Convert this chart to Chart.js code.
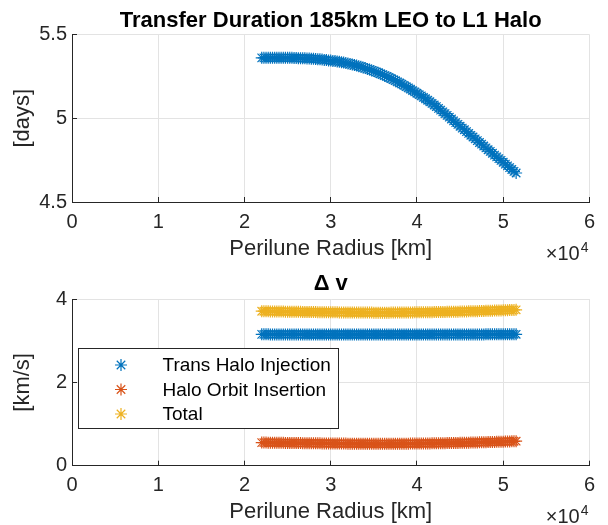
<!DOCTYPE html>
<html>
<head>
<meta charset="utf-8">
<script src="https://cdn.jsdelivr.net/npm/chart.js@4.4.1/dist/chart.umd.min.js"></script>
<style>
  html, body { margin: 0; padding: 0; background: #fff; }
  #wrap { position: relative; width: 608px; height: 525px; }
  canvas { position: absolute; left: 0; }
  #durationChart { top: 0; }
  #dvChart { top: 262px; }
</style>
</head>
<body>
<div id="wrap">
  <canvas id="durationChart" width="608" height="262"></canvas>
  <canvas id="dvChart" width="608" height="263"></canvas>
</div>
<script>
// perilune radius sweep [km]
const radiusKm = [
  22000, 22250, 22500, 22750, 23000, 23250, 23500, 23750, 24000, 24250,
  24500, 24750, 25000, 25250, 25500, 25750, 26000, 26250, 26500, 26750,
  27000, 27250, 27500, 27750, 28000, 28250, 28500, 28750, 29000, 29250,
  29500, 29750, 30000, 30250, 30500, 30750, 31000, 31250, 31500, 31750,
  32000, 32250, 32500, 32750, 33000, 33250, 33500, 33750, 34000, 34250,
  34500, 34750, 35000, 35250, 35500, 35750, 36000, 36250, 36500, 36750,
  37000, 37250, 37500, 37750, 38000, 38250, 38500, 38750, 39000, 39250,
  39500, 39750, 40000, 40250, 40500, 40750, 41000, 41250, 41500, 41750,
  42000, 42250, 42500, 42750, 43000, 43250, 43500, 43750, 44000, 44250,
  44500, 44750, 45000, 45250, 45500, 45750, 46000, 46250, 46500, 46750,
  47000, 47250, 47500, 47750, 48000, 48250, 48500, 48750, 49000, 49250,
  49500, 49750, 50000, 50250, 50500, 50750, 51000, 51250, 51500
];

// transfer duration [days]
const transferDays = [
  5.360, 5.360, 5.360, 5.360, 5.360, 5.360, 5.360, 5.360, 5.360, 5.360,
  5.360, 5.360, 5.360, 5.360, 5.360, 5.359, 5.359, 5.358, 5.358, 5.357,
  5.357, 5.356, 5.356, 5.355, 5.354, 5.353, 5.352, 5.351, 5.350, 5.348,
  5.347, 5.345, 5.344, 5.342, 5.341, 5.339, 5.337, 5.334, 5.332, 5.329,
  5.327, 5.324, 5.321, 5.317, 5.314, 5.310, 5.307, 5.303, 5.299, 5.294,
  5.290, 5.285, 5.281, 5.276, 5.271, 5.265, 5.260, 5.254, 5.249, 5.243,
  5.237, 5.230, 5.224, 5.217, 5.210, 5.203, 5.196, 5.188, 5.181, 5.173,
  5.165, 5.157, 5.149, 5.141, 5.133, 5.124, 5.116, 5.107, 5.098, 5.088,
  5.079, 5.069, 5.059, 5.048, 5.038, 5.027, 5.017, 5.006, 4.995, 4.984,
  4.974, 4.963, 4.952, 4.941, 4.931, 4.920, 4.909, 4.898, 4.888, 4.877,
  4.866, 4.855, 4.845, 4.834, 4.823, 4.812, 4.802, 4.791, 4.780, 4.769,
  4.759, 4.748, 4.737, 4.726, 4.716, 4.705, 4.694, 4.683, 4.673
];

// delta v [km/s]
const thiKms = [
  3.152, 3.152, 3.152, 3.152, 3.151, 3.151, 3.151, 3.151, 3.151, 3.151,
  3.150, 3.150, 3.150, 3.150, 3.150, 3.150, 3.150, 3.150, 3.150, 3.150,
  3.149, 3.149, 3.149, 3.149, 3.149, 3.149, 3.149, 3.149, 3.149, 3.149,
  3.149, 3.149, 3.148, 3.148, 3.148, 3.148, 3.148, 3.148, 3.148, 3.148,
  3.148, 3.148, 3.148, 3.148, 3.148, 3.148, 3.148, 3.148, 3.148, 3.148,
  3.148, 3.148, 3.148, 3.148, 3.148, 3.148, 3.148, 3.148, 3.148, 3.148,
  3.148, 3.148, 3.148, 3.148, 3.148, 3.149, 3.149, 3.149, 3.149, 3.149,
  3.149, 3.149, 3.149, 3.149, 3.149, 3.149, 3.149, 3.149, 3.149, 3.149,
  3.150, 3.150, 3.150, 3.150, 3.150, 3.150, 3.150, 3.150, 3.150, 3.150,
  3.150, 3.150, 3.150, 3.150, 3.151, 3.151, 3.151, 3.151, 3.151, 3.151,
  3.151, 3.151, 3.151, 3.151, 3.152, 3.152, 3.152, 3.152, 3.152, 3.152,
  3.152, 3.152, 3.153, 3.153, 3.153, 3.153, 3.153, 3.153, 3.153
];
const hoiKms = [
  0.555, 0.555, 0.554, 0.553, 0.552, 0.552, 0.551, 0.550, 0.549, 0.549,
  0.548, 0.547, 0.546, 0.546, 0.545, 0.544, 0.543, 0.543, 0.542, 0.541,
  0.540, 0.540, 0.539, 0.539, 0.538, 0.537, 0.536, 0.536, 0.535, 0.535,
  0.534, 0.534, 0.533, 0.533, 0.532, 0.532, 0.531, 0.531, 0.530, 0.530,
  0.529, 0.529, 0.528, 0.528, 0.527, 0.527, 0.527, 0.527, 0.526, 0.526,
  0.526, 0.526, 0.525, 0.525, 0.525, 0.525, 0.525, 0.525, 0.525, 0.525,
  0.526, 0.526, 0.526, 0.527, 0.527, 0.528, 0.528, 0.529, 0.529, 0.530,
  0.530, 0.531, 0.531, 0.532, 0.532, 0.533, 0.534, 0.535, 0.535, 0.536,
  0.537, 0.538, 0.538, 0.539, 0.540, 0.541, 0.542, 0.543, 0.544, 0.545,
  0.546, 0.547, 0.548, 0.550, 0.551, 0.552, 0.553, 0.555, 0.556, 0.557,
  0.558, 0.560, 0.561, 0.563, 0.564, 0.566, 0.567, 0.569, 0.570, 0.572,
  0.573, 0.575, 0.577, 0.579, 0.580, 0.582, 0.584, 0.586, 0.588
];
const totalKms = [
  3.707, 3.707, 3.706, 3.705, 3.703, 3.703, 3.702, 3.701, 3.700, 3.700,
  3.698, 3.697, 3.696, 3.696, 3.695, 3.694, 3.693, 3.693, 3.692, 3.691,
  3.689, 3.689, 3.688, 3.688, 3.687, 3.686, 3.685, 3.685, 3.684, 3.684,
  3.683, 3.683, 3.681, 3.681, 3.680, 3.680, 3.679, 3.679, 3.678, 3.678,
  3.677, 3.677, 3.676, 3.676, 3.675, 3.675, 3.675, 3.675, 3.674, 3.674,
  3.674, 3.674, 3.673, 3.673, 3.673, 3.673, 3.673, 3.673, 3.673, 3.673,
  3.674, 3.674, 3.674, 3.675, 3.675, 3.677, 3.677, 3.678, 3.678, 3.679,
  3.679, 3.680, 3.680, 3.681, 3.681, 3.682, 3.683, 3.684, 3.684, 3.685,
  3.687, 3.688, 3.688, 3.689, 3.690, 3.691, 3.692, 3.693, 3.694, 3.695,
  3.696, 3.697, 3.698, 3.700, 3.702, 3.703, 3.704, 3.706, 3.707, 3.708,
  3.709, 3.711, 3.712, 3.714, 3.716, 3.718, 3.719, 3.721, 3.722, 3.724,
  3.725, 3.727, 3.730, 3.732, 3.733, 3.735, 3.737, 3.739, 3.741
];

const xTickLabels = ["0", "1", "2", "3", "4", "5", "6"];
const seriesNames = ["Trans Halo Injection", "Halo Orbit Insertion", "Total"];
const seriesColors = ["#0072bd", "#d95319", "#edb120"];

const FONT = "'Liberation Sans', Arial, Helvetica, sans-serif";
Chart.defaults.font.family = FONT;
Chart.defaults.color = "#262626";
Chart.defaults.animation = false;

function toPoints(xs, ys) {
  return xs.map((x, i) => ({ x: x, y: ys[i] }));
}

function starSeries(label, ys, color) {
  return {
    label: label,
    data: toPoints(radiusKm, ys),
    pointStyle: "star",
    pointRadius: 6,
    pointBorderWidth: 1.2,
    pointBorderColor: color,
    pointBackgroundColor: color,
    borderColor: color,
    showLine: false
  };
}

const gridStyle = { color: "#e3e3e3", tickColor: "#262626", tickLength: -5 };

function xAxis(height) {
  return {
    type: "linear", min: 0, max: 60000,
    afterFit: s => { s.height = height; },
    border: { color: "#262626" },
    grid: gridStyle,
    ticks: {
      stepSize: 10000, padding: 13, maxRotation: 0, font: { size: 20 },
      callback: v => xTickLabels[Math.round(v / 10000)]
    },
    title: { display: true, text: "Perilune Radius [km]", font: { size: 22 }, padding: { top: 0, bottom: 0 } }
  };
}

function yAxis(min, max, step, label) {
  return {
    min: min, max: max,
    afterFit: s => { s.width = 72; },
    border: { color: "#262626" },
    grid: gridStyle,
    ticks: {
      stepSize: step, padding: 10, font: { size: 20 },
      callback: v => String(Math.round(v * 10) / 10)
    },
    title: { display: true, text: label, font: { size: 22 }, padding: { top: 10, bottom: 0 } }
  };
}

// the x10^4 multiplier under the right end of the x axis
const exponentLabel = {
  id: "exponentLabel",
  afterDraw(chart) {
    const { ctx, chartArea } = chart;
    ctx.save();
    ctx.fillStyle = "#262626";
    ctx.textBaseline = "alphabetic";
    ctx.textAlign = "left";
    ctx.font = "20px " + FONT;
    const base = "\u00d710";
    const wBase = ctx.measureText(base).width;
    ctx.font = "14px " + FONT;
    const wExp = ctx.measureText("4").width;
    const x0 = chartArea.right - 2 - wBase - wExp;
    const y0 = chartArea.bottom + 57.5;
    ctx.font = "20px " + FONT;
    ctx.fillText(base, x0, y0);
    ctx.font = "14px " + FONT;
    ctx.fillText("4", x0 + wBase + 1, y0 - 8);
    ctx.restore();
  }
};

function drawStar(ctx, x, y, r, color) {
  const d = r * Math.SQRT1_2;
  ctx.strokeStyle = color;
  ctx.lineWidth = 1.2;
  ctx.beginPath();
  ctx.moveTo(x - r, y); ctx.lineTo(x + r, y);
  ctx.moveTo(x, y - r); ctx.lineTo(x, y + r);
  ctx.moveTo(x - d, y - d); ctx.lineTo(x + d, y + d);
  ctx.moveTo(x - d, y + d); ctx.lineTo(x + d, y - d);
  ctx.stroke();
}

// boxed legend inside the axes, like matlab's
const boxLegend = {
  id: "boxLegend",
  afterDraw(chart) {
    const { ctx, chartArea } = chart;
    const x = Math.round(chartArea.left + 5.5) + 0.5;
    const y = Math.round(chartArea.top + 49) + 0.5;
    ctx.save();
    ctx.fillStyle = "#fff";
    ctx.fillRect(x, y, 260, 80);
    ctx.strokeStyle = "#262626";
    ctx.lineWidth = 1;
    ctx.strokeRect(x, y, 260, 80);
    ctx.font = "19px " + FONT;
    ctx.fillStyle = "#000";
    ctx.textBaseline = "middle";
    seriesNames.forEach((name, i) => {
      const cy = y + 16.5 + i * 24.5;
      drawStar(ctx, x + 42.5, cy, 6, seriesColors[i]);
      ctx.fillText(name, x + 84, cy + 1);
    });
    ctx.restore();
  }
};

new Chart(document.getElementById("durationChart"), {
  type: "scatter",
  data: { datasets: [starSeries("Transfer Duration", transferDays, seriesColors[0])] },
  options: {
    responsive: false,
    devicePixelRatio: 1,
    layout: { padding: { left: 0, right: 13, top: 0, bottom: 0 } },
    plugins: {
      legend: { display: false },
      tooltip: { enabled: false },
      title: {
        display: true, text: "Transfer Duration 185km LEO to L1 Halo", color: "#000",
        font: { size: 22, weight: "bold" }, padding: { top: 8, bottom: 0 }, fullSize: false
      }
    },
    scales: {
      x: xAxis(60),
      y: yAxis(4.5, 5.5, 0.5, "[days]")
    }
  },
  plugins: [exponentLabel]
});

new Chart(document.getElementById("dvChart"), {
  type: "scatter",
  data: {
    datasets: [
      starSeries(seriesNames[0], thiKms, seriesColors[0]),
      starSeries(seriesNames[1], hoiKms, seriesColors[1]),
      starSeries(seriesNames[2], totalKms, seriesColors[2])
    ]
  },
  options: {
    responsive: false,
    devicePixelRatio: 1,
    layout: { padding: { left: 0, right: 13, top: 0, bottom: 0 } },
    plugins: {
      legend: { display: false },
      tooltip: { enabled: false },
      title: {
        display: true, text: "\u0394 v", color: "#000",
        font: { size: 22, weight: "bold" }, padding: { top: 9, bottom: 1.6 }, fullSize: false
      }
    },
    scales: {
      x: xAxis(59.3),
      y: yAxis(0, 4, 2, "[km/s]")
    }
  },
  plugins: [exponentLabel, boxLegend]
});
</script>
</body>
</html>
